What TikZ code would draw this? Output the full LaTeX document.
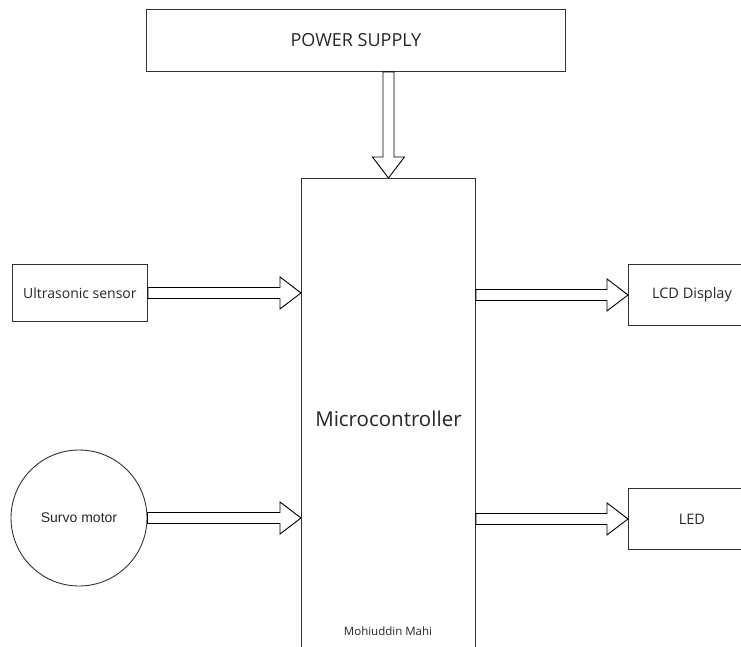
\documentclass[tikz,border=0pt]{standalone}
\usepackage{fontspec}
\setmainfont{Open Sans}
\newfontfamily\survofont{Liberation Sans}
\usetikzlibrary{calc}
\newcommand{\hollowarrow}[2]{%
  \coordinate (hb) at ($(#2)!\hl pt!(#1)$);
  \draw[fill=white] ($(#1)!\sw pt!90:(#2)$) -- ($(hb)!\sw pt!90:(#2)$)
    -- ($(hb)!\hw pt!90:(#2)$) -- (#2) -- ($(hb)!\hw pt!-90:(#2)$)
    -- ($(hb)!\sw pt!-90:(#2)$) -- ($(#1)!\sw pt!-90:(#2)$) -- cycle;}
\begin{document}
\begin{tikzpicture}[x=1pt,y=-1pt,line width=0.9pt,
  box/.style={draw=black!80,rectangle,inner sep=0pt,anchor=north west,text=black!85}]
\def\sw{5.5}
\def\hw{16}
\def\hl{21}
\useasboundingbox (0,0) rectangle (741,647);
\node[box,minimum width=419pt,minimum height=62pt,font=\fontsize{18}{20}\selectfont] (ps) at (146,9) {POWER SUPPLY};
\node[box,minimum width=174pt,minimum height=480pt,font=\fontsize{20.5}{24}\selectfont] (mc) at (301,178) {Microcontroller};
\node[text=black!85,font=\fontsize{11.5}{13}\selectfont] (name) at (388,631) {Mohiuddin Mahi};
\node[box,minimum width=135pt,minimum height=57pt,font=\fontsize{14}{16}\selectfont] (us) at (12,264) {Ultrasonic sensor};
\node[draw=black!80,circle,minimum size=136pt,inner sep=0pt,text=black!85,font=\survofont\fontsize{14}{16}\selectfont] (sm) at (79,518) {Survo motor};
\node[box,minimum width=127pt,minimum height=61pt,font=\fontsize{14.5}{16}\selectfont] (lcd) at (628,264) {LCD Display};
\node[box,minimum width=127pt,minimum height=61pt,font=\fontsize{14.5}{16}\selectfont] (led) at (628,488) {LED};
\hollowarrow{mc.north |- ps.south}{mc.north}
\hollowarrow{us.east}{us.east -| mc.west}
\hollowarrow{sm.east}{sm.east -| mc.west}
\hollowarrow{mc.east |- lcd.west}{lcd.west}
\hollowarrow{mc.east |- led.west}{led.west}
\end{tikzpicture}
\end{document}
